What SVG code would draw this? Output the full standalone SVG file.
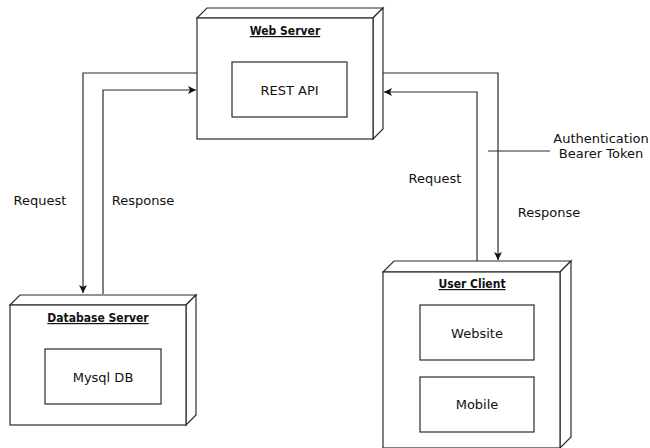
<svg xmlns="http://www.w3.org/2000/svg" width="650" height="448" viewBox="0 0 650 448">
  <style>
    .face { fill: #ffffff; stroke: #2b2b2b; stroke-width: 1.2; stroke-linejoin: miter; }
    .box { fill: #ffffff; stroke: #2b2b2b; stroke-width: 1.2; }
    .edge { fill: none; stroke: #2b2b2b; stroke-width: 1.2; }
    .title { font-family: "DejaVu Sans Condensed", "DejaVu Sans", sans-serif; font-stretch: condensed; font-weight: bold; font-size: 12px; text-decoration: underline; fill: #111; text-anchor: middle; }
    .label { font-family: "DejaVu Sans", sans-serif; font-size: 13px; fill: #111; text-anchor: middle; }
  </style>
  <defs>
    <marker id="arrow" markerWidth="9" markerHeight="8" refX="8" refY="4" orient="auto" markerUnits="userSpaceOnUse">
      <path d="M0,0 L8,4 L0,8 L2,4 z" fill="#111"/>
    </marker>
  </defs>

  <!-- connectors -->
  <g id="connectors">
    <path class="edge" d="M197,73 H83 V293" marker-end="url(#arrow)"/>
    <path class="edge" d="M103,294 V90 H196" marker-end="url(#arrow)"/>
    <path class="edge" d="M383,73 H498 V260" marker-end="url(#arrow)"/>
    <path class="edge" d="M477,261 V92 H384" marker-end="url(#arrow)"/>
    <path class="edge" d="M488,151 H550"/>
    <text class="label" x="40" y="204.5">Request</text>
    <text class="label" x="143" y="204.5">Response</text>
    <text class="label" x="435" y="182.5">Request</text>
    <text class="label" x="549" y="216.5">Response</text>
    <text class="label" x="601" y="142.5">Authentication</text>
    <text class="label" x="601" y="157.5">Bearer Token</text>
  </g>

  <!-- web server node -->
  <g id="web-server">
    <polygon class="face" points="197,18 207,8 383,8 373,18"/>
    <polygon class="face" points="373,18 383,8 383,129 373,139"/>
    <rect class="face" x="197" y="18" width="176" height="121"/>
    <text class="title" x="285" y="35">Web Server</text>
    <g id="rest-api">
      <rect class="box" x="232" y="62" width="115" height="55"/>
      <text class="label" x="289.5" y="94.5">REST API</text>
    </g>
  </g>

  <!-- database server node -->
  <g id="database-server">
    <polygon class="face" points="10,305 20,295 196,295 186,305"/>
    <polygon class="face" points="186,305 196,295 196,415 186,425"/>
    <rect class="face" x="10" y="305" width="176" height="120"/>
    <text class="title" x="98" y="322">Database Server</text>
    <g id="mysql-db">
      <rect class="box" x="45" y="349" width="116" height="55"/>
      <text class="label" x="103" y="381.5">Mysql DB</text>
    </g>
  </g>

  <!-- user client node -->
  <g id="user-client">
    <polygon class="face" points="383,272 394,261 571,261 560,272"/>
    <polygon class="face" points="560,272 571,261 571,437 560,448"/>
    <rect class="face" x="383" y="272" width="177" height="176"/>
    <text class="title" x="472" y="288">User Client</text>
    <g id="website">
      <rect class="box" x="420" y="305" width="114" height="55"/>
      <text class="label" x="477" y="337.5">Website</text>
    </g>
    <g id="mobile">
      <rect class="box" x="420" y="377" width="114" height="55"/>
      <text class="label" x="477" y="408.5">Mobile</text>
    </g>
  </g>
</svg>
